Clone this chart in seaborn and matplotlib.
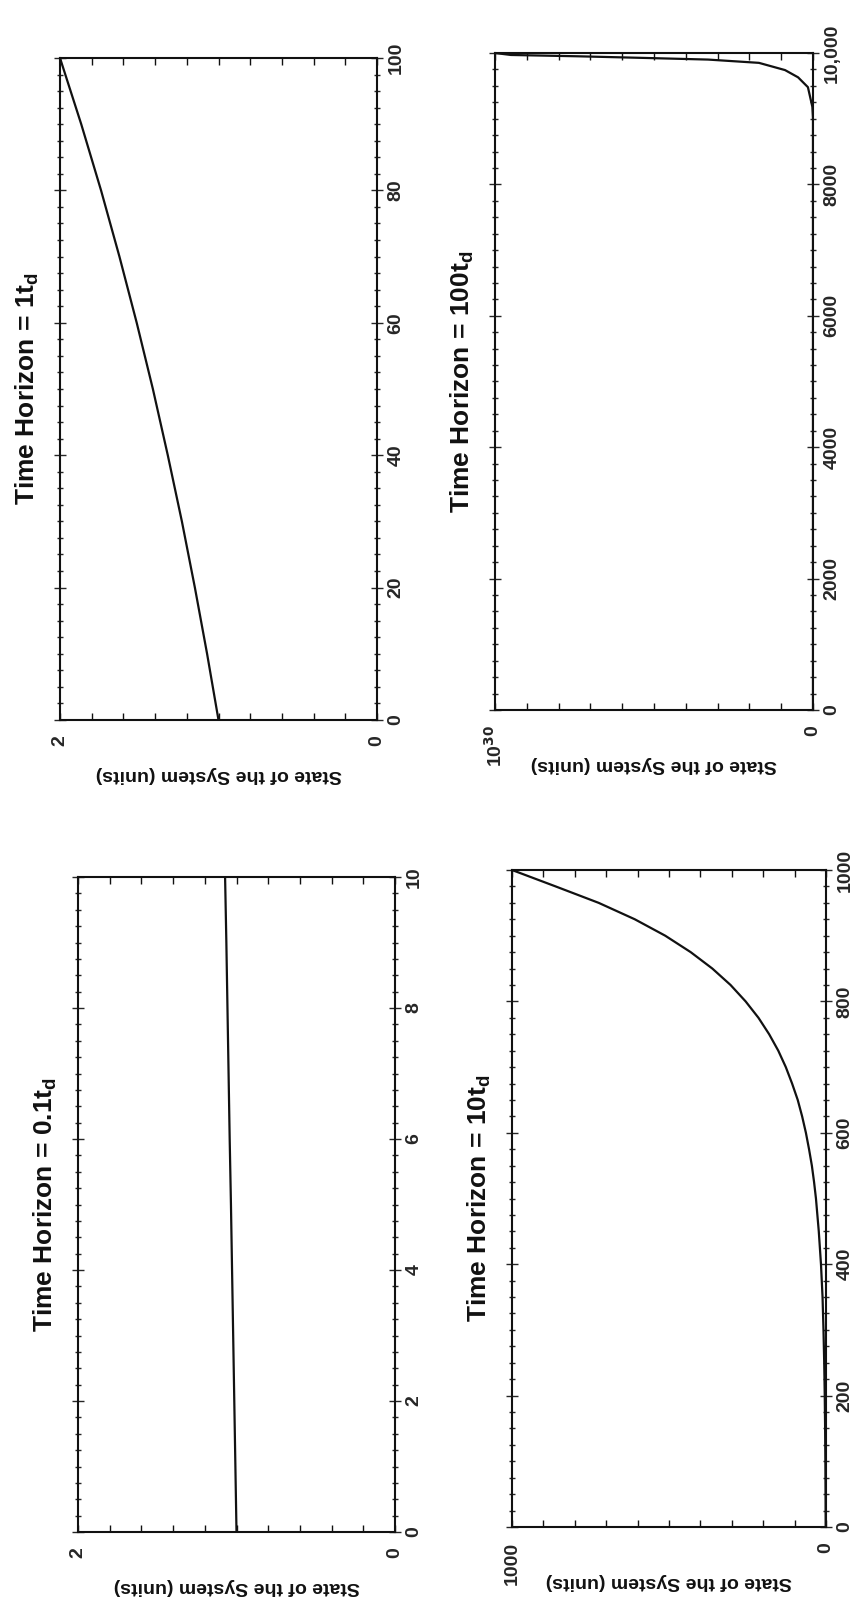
import numpy as np
import pandas as pd
import seaborn as sns
import matplotlib
matplotlib.use("Agg")
import matplotlib.pyplot as plt
from matplotlib.ticker import MultipleLocator, FixedLocator, FixedFormatter

sns.set_theme(style="ticks")
plt.rcParams['font.family'] = ['Liberation Sans', 'DejaVu Sans']
plt.rcParams['font.weight'] = 'bold'

t_01 = [0, 1, 2, 3, 4, 5, 6, 7, 8, 9, 10]
s_01 = [1.000, 1.007, 1.014, 1.021, 1.028, 1.035, 1.043, 1.050, 1.057, 1.064, 1.072]

t_1 = [0, 10, 20, 30, 40, 50, 60, 70, 80, 90, 100]
s_1 = [1.000, 1.072, 1.149, 1.231, 1.320, 1.414, 1.516, 1.625, 1.741, 1.866, 2.000]

t_10 = [0, 50, 100, 150, 200, 250, 300, 350, 400, 450, 500, 525, 550, 575, 600, 625, 650,
        675, 700, 725, 750, 775, 800, 825, 850, 875, 900, 925, 950, 975, 1000]
s_10 = [1, 1.4, 2, 2.8, 4, 5.7, 8, 11, 16, 23, 32, 38, 45, 54, 64, 76, 90,
        108, 128, 152, 181, 215, 256, 304, 362, 431, 512, 609, 724, 861, 1000]

# state in units of 10^30
t_100 = [0, 1000, 2000, 3000, 4000, 5000, 6000, 7000, 8000, 9000,
         9180, 9480, 9630, 9740, 9850, 9900, 9925, 9950, 9970, 10000]
s_100 = [0, 0, 0, 0, 0, 0, 0, 0, 0, 0,
         0.002, 0.016, 0.047, 0.088, 0.17, 0.33, 0.53, 0.74, 0.95, 1.0]

titles = ['Time Horizon = 0.1t$_\\mathregular{d}$', 'Time Horizon = 1t$_\\mathregular{d}$',
          'Time Horizon = 10t$_\\mathregular{d}$', 'Time Horizon = 100t$_\\mathregular{d}$']
state_max = [2, 2, 1000, 1.0]
state_max_label = ['2', '2', '1000', '10$^{30}$']
time_ticks = [[0, 2, 4, 6, 8, 10], [0, 20, 40, 60, 80, 100],
              [0, 200, 400, 600, 800, 1000], [0, 2000, 4000, 6000, 8000, 10000]]
time_tick_labels = [['0', '2', '4', '6', '8', '10'], ['0', '20', '40', '60', '80', '100'],
                    ['0', '200', '400', '600', '800', '1000'],
                    ['0', '2000', '4000', '6000', '8000', '10,000']]
series = [(t_01, s_01), (t_1, s_1), (t_10, s_10), (t_100, s_100)]

# axes boxes in pixels of the 855x1610 picture: left, right, top, bottom
boxes = [(78, 395, 877, 1532), (60, 377, 58, 720), (512, 826, 870, 1527), (495, 813, 53, 710)]

W, H = 855, 1610
fig = plt.figure(figsize=(W / 100, H / 100), dpi=100)
fig.patch.set_facecolor('white')

for i in range(4):
    l, r, t, b = boxes[i]
    w_px, h_px = r - l, b - t
    ax = fig.add_axes([l / W, 1 - b / H, w_px / W, h_px / H])
    tt, ss = series[i]
    df = pd.DataFrame({'time': tt, 'state': ss})
    sns.lineplot(data=df, x='state', y='time', orient='y', estimator=None, sort=False,
                 color='#111111', linewidth=1.6, ax=ax)
    smax = state_max[i]
    tmax = time_ticks[i][-1]
    ax.set_xlim(smax, 0)
    ax.set_ylim(0, tmax)

    ax.xaxis.set_major_locator(FixedLocator([0, smax]))
    ax.xaxis.set_major_formatter(FixedFormatter(['0', state_max_label[i]]))
    ax.xaxis.set_minor_locator(MultipleLocator(smax / 10))
    ax.yaxis.tick_right()
    ax.yaxis.set_major_locator(FixedLocator(time_ticks[i]))
    ax.yaxis.set_major_formatter(FixedFormatter(time_tick_labels[i]))
    ax.yaxis.set_minor_locator(MultipleLocator(tmax / 40))

    ax.tick_params(axis='x', which='both', direction='in', top=True, bottom=True,
                   length=5, width=1.0, color='#111111')
    ax.tick_params(axis='x', which='major', labelsize=14, pad=11, labelrotation=90)
    ax.tick_params(axis='y', which='major', direction='inout', left=True, right=True,
                   length=9, width=1.0, labelsize=14, pad=3, labelrotation=90)
    ax.tick_params(axis='y', which='minor', direction='inout', left=True, right=True,
                   length=5, width=1.0)
    for lab in ax.get_yticklabels():
        lab.set_verticalalignment('center')
        lab.set_fontweight('bold')
    for lab in ax.get_xticklabels():
        lab.set_fontweight('bold')

    for sp in ax.spines.values():
        sp.set_visible(True)
        sp.set_linewidth(1.5)
        sp.set_color('#111111')

    ax.set_xlabel('State of the System (units)', rotation=180, fontsize=14,
                  fontweight='bold', color='#111111')
    ax.xaxis.set_label_coords(0.5, -54 / h_px)
    ax.xaxis.label.set_verticalalignment('center')

    ax.yaxis.set_label_position('left')
    ax.set_ylabel(titles[i], fontsize=19, fontweight='bold', color='#111111')
    ax.yaxis.set_label_coords(-33 / w_px, 0.5)
    ax.yaxis.label.set_verticalalignment('center')
    ax.set_facecolor('white')

fig.savefig('out.png', dpi=100, facecolor='white')
